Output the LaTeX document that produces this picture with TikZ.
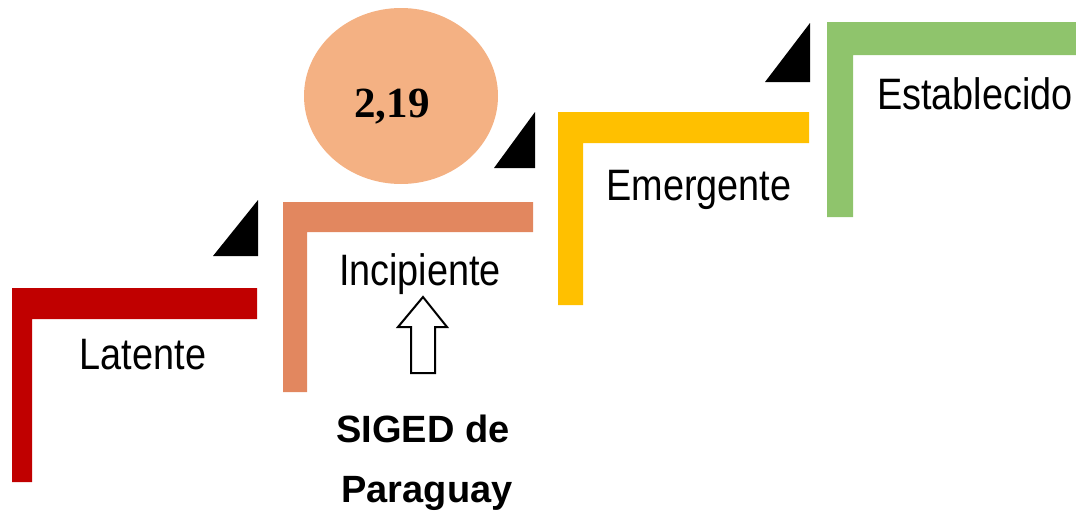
\documentclass[tikz,border=0pt]{standalone}
\usepackage{fontspec}
\usepackage{tikz}
\usepackage{xcolor}
\usetikzlibrary{shapes.geometric}
\setmainfont{Liberation Sans}
\newfontfamily\narrowfont{Liberation Sans}[FakeStretch=0.86]
\newfontfamily\timesfont{Liberation Serif}
\definecolor{latred}{HTML}{C00000}
\definecolor{incorange}{HTML}{E2875F}
\definecolor{emeyellow}{HTML}{FFC000}
\definecolor{estgreen}{HTML}{8FC46C}
\definecolor{scorefill}{HTML}{F4B183}
\tikzset{
  stepbar/.style={fill=#1,draw=none},
  corner/.style={fill=black,draw=none},
  lvl/.style={font=\narrowfont\fontsize{44}{50}\selectfont,anchor=base,inner sep=0pt},
  tag/.style={font=\bfseries\fontsize{38}{44}\selectfont,anchor=base,inner sep=0pt}
}

\begin{document}
\begin{tikzpicture}[x=1pt,y=-1pt]
\useasboundingbox(0,0)rectangle(1076,525);
\fill[stepbar=latred](12,288)--(257,288)--(257,319)--(32,319)--(32,482)--(12,482)--cycle;
\fill[stepbar=incorange](283,202)--(533,202)--(533,232)--(307,232)--(307,392)--(283,392)--cycle;
\fill[stepbar=emeyellow](558,112)--(809,112)--(809,143)--(583,143)--(583,305)--(558,305)--cycle;
\fill[stepbar=estgreen](827,22)--(1076,22)--(1076,55)--(853,55)--(853,217)--(827,217)--cycle;
\fill[corner](213,256)--(258,256)--(258,200)--cycle;
\fill[corner](494,168)--(535,168)--(535,112)--cycle;
\fill[corner](765,82)--(810,82)--(810,23)--cycle;
\node[lvl](latente)at(143,369){Latente};
\node[lvl](incipiente)at(420,285){Incipiente};
\node[lvl](emergente)at(699,200){Emergente};
\node[lvl](establecido)at(975,109){Establecido};
\node[ellipse,fill=scorefill,minimum width=194pt,minimum height=176pt,inner sep=0pt](score)at(401,96){};
\node[font=\timesfont\bfseries\fontsize{43}{50}\selectfont,anchor=base,inner sep=0pt](value)at(392,117){2,19};
\draw[line width=2pt,fill=white,line join=miter](423,297)--(447,327)--(435,327)--(435,373)--(411,373)--(411,327)--(398,327)--cycle;
\node[tag](siged)at(423,442){SIGED de};
\node[tag](paraguay)at(427,502){Paraguay};
\end{tikzpicture}
\end{document}
